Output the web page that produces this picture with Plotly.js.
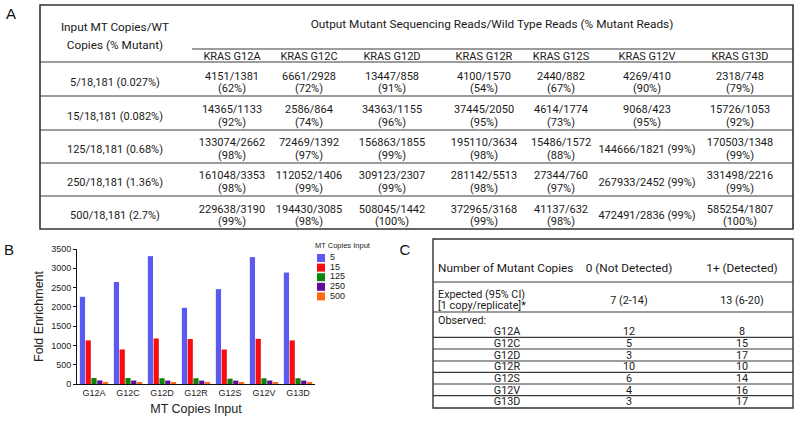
<!DOCTYPE html>
<html>
<head>
<meta charset="utf-8">
<script src="https://cdn.plot.ly/plotly-3.0.1.min.js"></script>
<style>html,body{margin:0;padding:0;background:#fff;}#chart{width:800px;height:433px;}</style>
</head>
<body>
<div id="chart"></div>
<script>
// ---------------- DATA ----------------
const mutations = ["G12A", "G12C", "G12D", "G12R", "G12S", "G12V", "G13D"];
const copyInputs = ["5", "15", "125", "250", "500"];
const fold5   = [2260, 2645, 3315, 1975, 2460, 3290, 2890];
const fold15  = [1130, 895, 1180, 1165, 895, 1170, 1130];
const fold125 = [155, 155, 150, 150, 138, 150, 150];
const fold250 = [92, 90, 90, 88, 88, 90, 90];
const fold500 = [55, 52, 52, 52, 52, 52, 52];

const inputLabels = ["5/18,181 (0.027%)", "15/18,181 (0.082%)", "125/18,181 (0.68%)", "250/18,181 (1.36%)", "500/18,181 (2.7%)"];
const kras = ["KRAS G12A", "KRAS G12C", "KRAS G12D", "KRAS G12R", "KRAS G12S", "KRAS G12V", "KRAS G13D"];
const readsG12A = ["4151/1381", "14365/1133", "133074/2662", "161048/3353", "229638/3190"];
const pctG12A = [62, 92, 98, 98, 99];
const readsG12C = ["6661/2928", "2586/864", "72469/1392", "112052/1406", "194430/3085"];
const pctG12C = [72, 74, 97, 99, 98];
const readsG12D = ["13447/858", "34363/1155", "156863/1855", "309123/2307", "508045/1442"];
const pctG12D = [91, 96, 99, 99, 100];
const readsG12R = ["4100/1570", "37445/2050", "195110/3634", "281142/5513", "372965/3168"];
const pctG12R = [54, 95, 98, 98, 99];
const readsG12S = ["2440/882", "4614/1774", "15486/1572", "27344/760", "41137/632"];
const pctG12S = [67, 73, 88, 97, 98];
const readsG12V = ["4269/410", "9068/423", "144666/1821", "267933/2452", "472491/2836"];
const pctG12V = [90, 95, 99, 99, 99];
const readsG13D = ["2318/748", "15726/1053", "170503/1348", "331498/2216", "585254/1807"];
const pctG13D = [79, 92, 99, 99, 100];
const headerInput = ["Input MT Copies/WT", "Copies (% Mutant)"];
const headerOutput = "Output Mutant Sequencing Reads/Wild Type Reads (% Mutant Reads)";

const cHeaders = ["Number of Mutant Copies", "0 (Not Detected)", "1+ (Detected)"];
const expectedLabel = ["Expected (95% CI)", "[1 copy/replicate]*"];
const expectedVals = ["7 (2-14)", "13 (6-20)"];
const observedLabel = "Observed:";
const notDetected = [12, 5, 3, 10, 6, 4, 3];
const detected = [8, 15, 17, 10, 14, 16, 17];

// ---------------- LAYOUT CONSTANTS (pixel positions) ----------------
const W = 800, H = 433;
const colX = [115, 232, 309, 392, 484, 561, 647, 740];
const rowY = [81.5, 115, 148, 181, 214.5];
const halfLine = 6.3;
const yShift = 1.8;
const oneLineCols = { 5: [false, false, true, true, true] };
const seriesColors = ["#5a5af2", "#f80c0c", "#0b860b", "#650a9c", "#ff6a12"];
const fam = "Roboto, Lato, 'Open Sans', sans-serif";
const tableFont = { family: fam, size: 11, color: "#1a1a1a" };
const headFont = { family: fam, size: 11.8, color: "#1a1a1a" };
const cFont = { family: fam, size: 10.8, color: "#1a1a1a" };
const chartFont = "'Liberation Sans', Arial, sans-serif";

const readsCols = [readsG12A, readsG12C, readsG12D, readsG12R, readsG12S, readsG12V, readsG13D];
const pctCols = [pctG12A, pctG12C, pctG12D, pctG12R, pctG12S, pctG12V, pctG13D];
const foldSeries = [fold5, fold15, fold125, fold250, fold500];

const traces = [];

// ---------------- PANEL B : bars ----------------
foldSeries.forEach((vals, i) => {
  traces.push({
    type: "bar", x: mutations, y: vals, name: copyInputs[i],
    marker: { color: seriesColors[i], line: { width: 0 } },
    xaxis: "x", yaxis: "y", showlegend: false, hoverinfo: "x+y+name"
  });
});

// helper for text traces on the pixel overlay
function txt(xs, ys, texts, pos, font, shift) {
  const s = shift === undefined ? yShift : shift;
  traces.push({
    type: "scatter", mode: "text", x: xs, y: ys.map(v => v + s), text: texts,
    textposition: pos || "middle center", textfont: font || tableFont,
    xaxis: "x2", yaxis: "y2", showlegend: false, hoverinfo: "skip", cliponaxis: false
  });
}

// manual legend for panel B
const legX = 321, legY0 = 258, legStep = 9.6;
const legYs = copyInputs.map((_, i) => legY0 + i * legStep);
traces.push({
  type: "scatter", mode: "markers", x: copyInputs.map(() => legX), y: legYs,
  marker: { symbol: "square", size: 8, color: seriesColors },
  xaxis: "x2", yaxis: "y2", showlegend: false, hoverinfo: "skip", cliponaxis: false
});
txt(copyInputs.map(() => legX + 9), legYs, copyInputs, "middle right", { family: chartFont, size: 9, color: "#222" }, 0);
txt([315], [246], ["MT Copies Input"], "middle right", { family: chartFont, size: 7.5, color: "#222" }, 0);

// ---------------- PANEL A : table ----------------
txt([colX[0], colX[0]], [26.5, 44.5], headerInput, "middle center", headFont);
txt([492], [23], [headerOutput], "middle center", headFont);
txt(colX.slice(1), kras.map(() => 55.5), kras);
txt(inputLabels.map(() => colX[0]), rowY, inputLabels);
readsCols.forEach((reads, c) => {
  const one = oneLineCols[c] || reads.map(() => false);
  const xs1 = [], ys1 = [], t1 = [];
  reads.forEach((r, k) => {
    if (one[k]) {
      xs1.push(colX[c + 1]); ys1.push(rowY[k]); t1.push(r + " (" + pctCols[c][k] + "%)");
    } else {
      xs1.push(colX[c + 1]); ys1.push(rowY[k] - halfLine); t1.push(r);
      xs1.push(colX[c + 1]); ys1.push(rowY[k] + halfLine); t1.push("(" + pctCols[c][k] + "%)");
    }
  });
  txt(xs1, ys1, t1);
});

// ---------------- PANEL C : table ----------------
const cColX = [507, 629, 742];
const cLeftX = 438;
const cObsY = [330.5, 342.8, 354.5, 366, 377.6, 389.3, 401];
txt([cLeftX], [267], [cHeaders[0]], "middle right", headFont);
txt(cColX.slice(1), [267, 267], cHeaders.slice(1), "middle center", headFont);
txt([cLeftX, cLeftX], [293.5, 305], expectedLabel, "middle right", cFont);
txt(cColX.slice(1), [299.5, 299.5], expectedVals, "middle center", cFont);
txt([cLeftX], [319.5], [observedLabel], "middle right", cFont);
txt(mutations.map(() => cColX[0]), cObsY, mutations, "middle center", cFont);
txt(notDetected.map(() => cColX[1]), cObsY, notDetected.map(String), "middle center", cFont);
txt(detected.map(() => cColX[2]), cObsY, detected.map(String), "middle center", cFont);

// panel letters
txt([11, 9, 405], [15, 251, 251], ["A", "B", "C"], "middle center", { family: chartFont, size: 15, color: "#111" }, 0);

// ---------------- SHAPES (table rules) ----------------
const lineStyle = { color: "#3a3a3a", width: 1.2 };
function hl(x0, x1, y, w) {
  return { type: "line", xref: "x2", yref: "y2", x0: x0, x1: x1, y0: y, y1: y, line: { color: lineStyle.color, width: w || lineStyle.width }, layer: "above" };
}
const shapes = [
  { type: "rect", xref: "x2", yref: "y2", x0: 40, x1: 793, y0: 5, y1: 229, line: { color: "#333", width: 1.6 } },
  hl(192, 793, 49), hl(40, 793, 62), hl(40, 793, 96), hl(40, 793, 130), hl(40, 793, 163), hl(40, 793, 196),
  { type: "rect", xref: "x2", yref: "y2", x0: 433, x1: 793, y0: 239, y1: 408, line: { color: "#333", width: 1.4 } },
  hl(433, 793, 282), hl(433, 793, 312),
  hl(433, 793, 337.3), hl(433, 793, 349), hl(433, 793, 361), hl(433, 793, 372.3), hl(433, 793, 384), hl(433, 793, 395.7)
];

const layout = {
  width: W, height: H,
  margin: { l: 0, r: 0, t: 0, b: 0, pad: 0 },
  paper_bgcolor: "#fff", plot_bgcolor: "rgba(0,0,0,0)",
  showlegend: false,
  barmode: "group", bargap: 0.15, bargroupgap: 0.1,
  font: { family: chartFont, color: "#222" },
  xaxis: {
    domain: [77 / W, 315 / W], type: "category",
    showline: true, linecolor: "#111", linewidth: 1, ticks: "", showgrid: false, zeroline: false,
    tickfont: { family: chartFont, size: 9, color: "#222" },
    title: { text: "MT Copies Input", font: { family: chartFont, size: 12.5, color: "#222" }, standoff: 7 },
    automargin: false, fixedrange: true
  },
  yaxis: {
    domain: [1 - 384 / H, 1 - 249 / H], range: [0, 3500], dtick: 500,
    showline: true, linecolor: "#111", linewidth: 1, ticks: "outside", ticklen: 3, tickcolor: "#111",
    showgrid: false, zeroline: false,
    tickfont: { family: chartFont, size: 9, color: "#222" },
    title: { text: "Fold Enrichment", font: { family: chartFont, size: 12.5, color: "#222" }, standoff: 4 },
    automargin: false, fixedrange: true
  },
  xaxis2: { domain: [0, 1], range: [0, W], visible: false, fixedrange: true, anchor: "y2" },
  yaxis2: { domain: [0, 1], range: [H, 0], visible: false, fixedrange: true, anchor: "x2" },
  shapes: shapes
};

Plotly.newPlot("chart", traces, layout, { staticPlot: true, displayModeBar: false });
</script>
</body>
</html>
